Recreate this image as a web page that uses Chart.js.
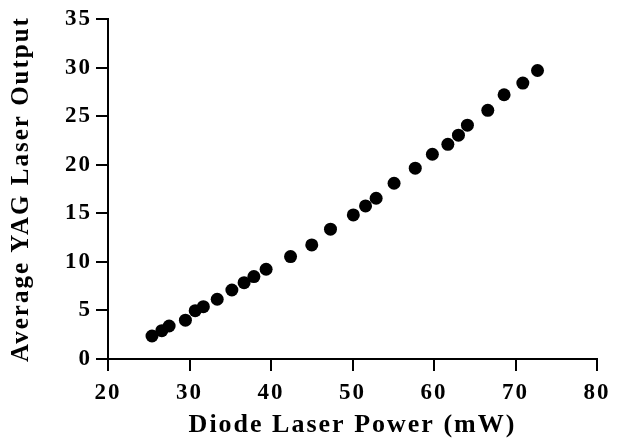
<!DOCTYPE html>
<html>
<head>
<meta charset="utf-8">
<script src="https://cdn.jsdelivr.net/npm/chart.js@4"></script>
<style>
  body { margin: 0; background: #fff; }
  canvas { display: block; }
</style>
</head>
<body>
<canvas id="myChart" width="621" height="443"></canvas>
<script>
// Diode laser power (mW)
const diodePower = [25.4, 26.6, 27.5, 29.5, 30.7, 31.7, 33.4, 35.2, 36.7, 37.9, 39.4, 42.4,
  45.0, 47.3, 50.1, 51.6, 52.9, 55.1, 57.7, 59.8, 61.7, 63.0, 64.1, 66.6, 68.6, 70.9, 72.7]
// Average YAG laser output
const yagOutput = [2.37, 2.92, 3.40, 4.0, 4.97, 5.39, 6.15, 7.1, 7.86, 8.48, 9.24, 10.54,
  11.74, 13.36, 14.83, 15.76, 16.55, 18.09, 19.64, 21.08, 22.1, 23.04, 24.07, 25.6, 27.2, 28.4, 29.7]

const xTitle = 'Diode Laser Power (mW)'
const yTitle = 'Average YAG Laser Output'
const xRange = [20, 80]
const yRange = [0, 35]

Chart.defaults.font.family = '"Liberation Serif", "Times New Roman", serif'
Chart.defaults.color = '#000'

// wide lettering like the original print
const spacing = {
  id: 'spacing',
  beforeUpdate (c) { c.ctx.letterSpacing = '2px' },
  beforeDraw (c) { c.ctx.letterSpacing = '2px' }
}

const points = diodePower.map((x, i) => ({ x: x, y: yagOutput[i] }))

const ctx = document.getElementById('myChart').getContext('2d')
new Chart(ctx, {
  type: 'scatter',
  data: {
    datasets: [{
      data: points,
      backgroundColor: '#000',
      borderWidth: 0,
      pointRadius: 6.5,
      pointHoverRadius: 6.5
    }]
  },
  options: {
    responsive: false,
    animation: false,
    devicePixelRatio: 1,
    layout: { padding: { top: 19, right: 24, left: 0, bottom: 0 } },
    plugins: { legend: { display: false }, tooltip: { enabled: false } },
    scales: {
      x: {
        type: 'linear',
        min: xRange[0],
        max: xRange[1],
        afterFit: s => { s.height = 84 },
        ticks: { stepSize: 10, padding: 8, font: { size: 23, weight: 'bold' } },
        grid: { drawOnChartArea: false, tickLength: 12, color: '#000', lineWidth: 2 },
        border: { color: '#000', width: 2 },
        title: { display: true, text: xTitle, font: { size: 26, weight: 'bold' }, padding: { top: 0, bottom: 2 } }
      },
      y: {
        min: yRange[0],
        max: yRange[1],
        afterFit: s => { s.width = 108 },
        ticks: { stepSize: 5, padding: 4, font: { size: 23, weight: 'bold' } },
        grid: { drawOnChartArea: false, tickLength: 12, color: '#000', lineWidth: 2 },
        border: { color: '#000', width: 2 },
        title: { display: true, text: yTitle, font: { size: 25, weight: 'bold' }, padding: { top: 7, bottom: 0 } }
      }
    }
  },
  plugins: [spacing]
})
</script>
</body>
</html>
